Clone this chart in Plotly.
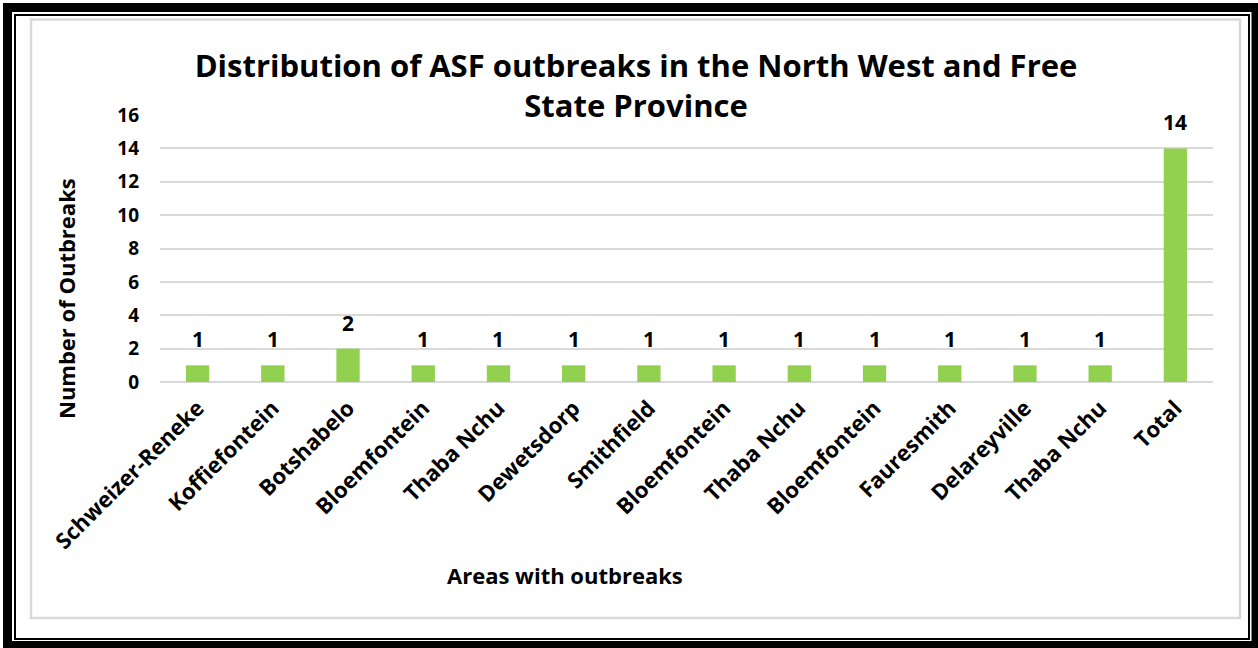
import plotly.graph_objects as go

# Outbreak areas and counts
areas = ["Schweizer-Reneke", "Koffiefontein", "Botshabelo", "Bloemfontein",
         "Thaba Nchu", "Dewetsdorp", "Smithfield", "Bloemfontein", "Thaba Nchu",
         "Bloemfontein", "Fauresmith", "Delareyville", "Thaba Nchu", "Total"]
outbreaks = [1, 1, 2, 1, 1, 1, 1, 1, 1, 1, 1, 1, 1, 14]
y_ticks = [0, 2, 4, 6, 8, 10, 12, 14, 16]

W, H = 1258, 648
ML, MR, MT, MB = 160, 45, 115, 266
PW, PH = W - ML - MR, H - MT - MB


def px(x):
    return (x - ML) / PW


def py(y):
    return (H - MB - y) / PH


FONT = "Open Sans"
GREEN = "#92D050"
GRID = "#d9d9d9"

xs = list(range(len(areas)))

fig = go.Figure()
fig.add_trace(go.Bar(x=xs, y=outbreaks, marker=dict(color=GREEN, line_width=0),
                     width=0.31, hoverinfo="x+y"))

annotations = []
for i, v in zip(xs, outbreaks):
    annotations.append(dict(x=i, y=v, xref="x", yref="y", text=f"<b>{v}</b>",
                            showarrow=False, yanchor="bottom", yshift=10,
                            font=dict(family=FONT, size=21, color="#000")))

annotations.append(dict(x=px(565), y=py(575), xref="paper", yref="paper",
                        text="<b>Areas with outbreaks</b>", showarrow=False,
                        xanchor="center", yanchor="middle",
                        font=dict(family=FONT, size=22, color="#000")))
annotations.append(dict(x=px(66), y=py(299), xref="paper", yref="paper",
                        text="<b>Number of Outbreaks</b>", showarrow=False,
                        textangle=-90, xanchor="center", yanchor="middle",
                        font=dict(family=FONT, size=22, color="#000")))

shapes = [
    # chart area frame
    dict(type="rect", xref="paper", yref="paper",
         x0=px(31), x1=px(1240), y0=py(19.5), y1=py(618),
         line=dict(color=GRID, width=2.5), layer="below"),
    # double black border
    dict(type="rect", xref="paper", yref="paper",
         x0=px(7.5), x1=px(1256), y0=py(7.5), y1=py(645.5),
         line=dict(color="#000", width=9)),
    dict(type="rect", xref="paper", yref="paper",
         x0=px(15), x1=px(1249), y0=py(15), y1=py(639),
         line=dict(color="#000", width=2)),
]

fig.update_layout(
    width=W, height=H,
    margin=dict(l=ML, r=MR, t=MT, b=MB),
    paper_bgcolor="#ffffff", plot_bgcolor="#ffffff",
    showlegend=False,
    bargap=0.69,
    title=dict(text="<b>Distribution of ASF outbreaks in the North West and Free<br>State Province</b>",
               xref="container", yref="container",
               x=636 / W, xanchor="center", y=1 - 77 / H, yanchor="middle",
               font=dict(family=FONT, size=31, color="#000")),
    xaxis=dict(range=[-0.5, len(areas) - 0.5], tickmode="array", tickvals=xs,
               ticktext=[f"<b>{a}</b>" for a in areas], tickangle=-45,
               tickfont=dict(family=FONT, size=22, color="#000"),
               showgrid=False, zeroline=False, showline=False, ticks="",
               ticklabelstandoff=8, fixedrange=True),
    yaxis=dict(range=[0, 16], tickmode="array", tickvals=y_ticks,
               ticktext=[f"<b>{t}</b>" for t in y_ticks],
               tickfont=dict(family=FONT, size=19, color="#000"),
               showgrid=True, gridcolor=GRID, gridwidth=1.5,
               zeroline=True, zerolinecolor=GRID, zerolinewidth=1.5,
               showline=False, ticks="", ticklabelstandoff=20, fixedrange=True),
    annotations=annotations,
    shapes=shapes,
)

fig.write_html("out.html")
